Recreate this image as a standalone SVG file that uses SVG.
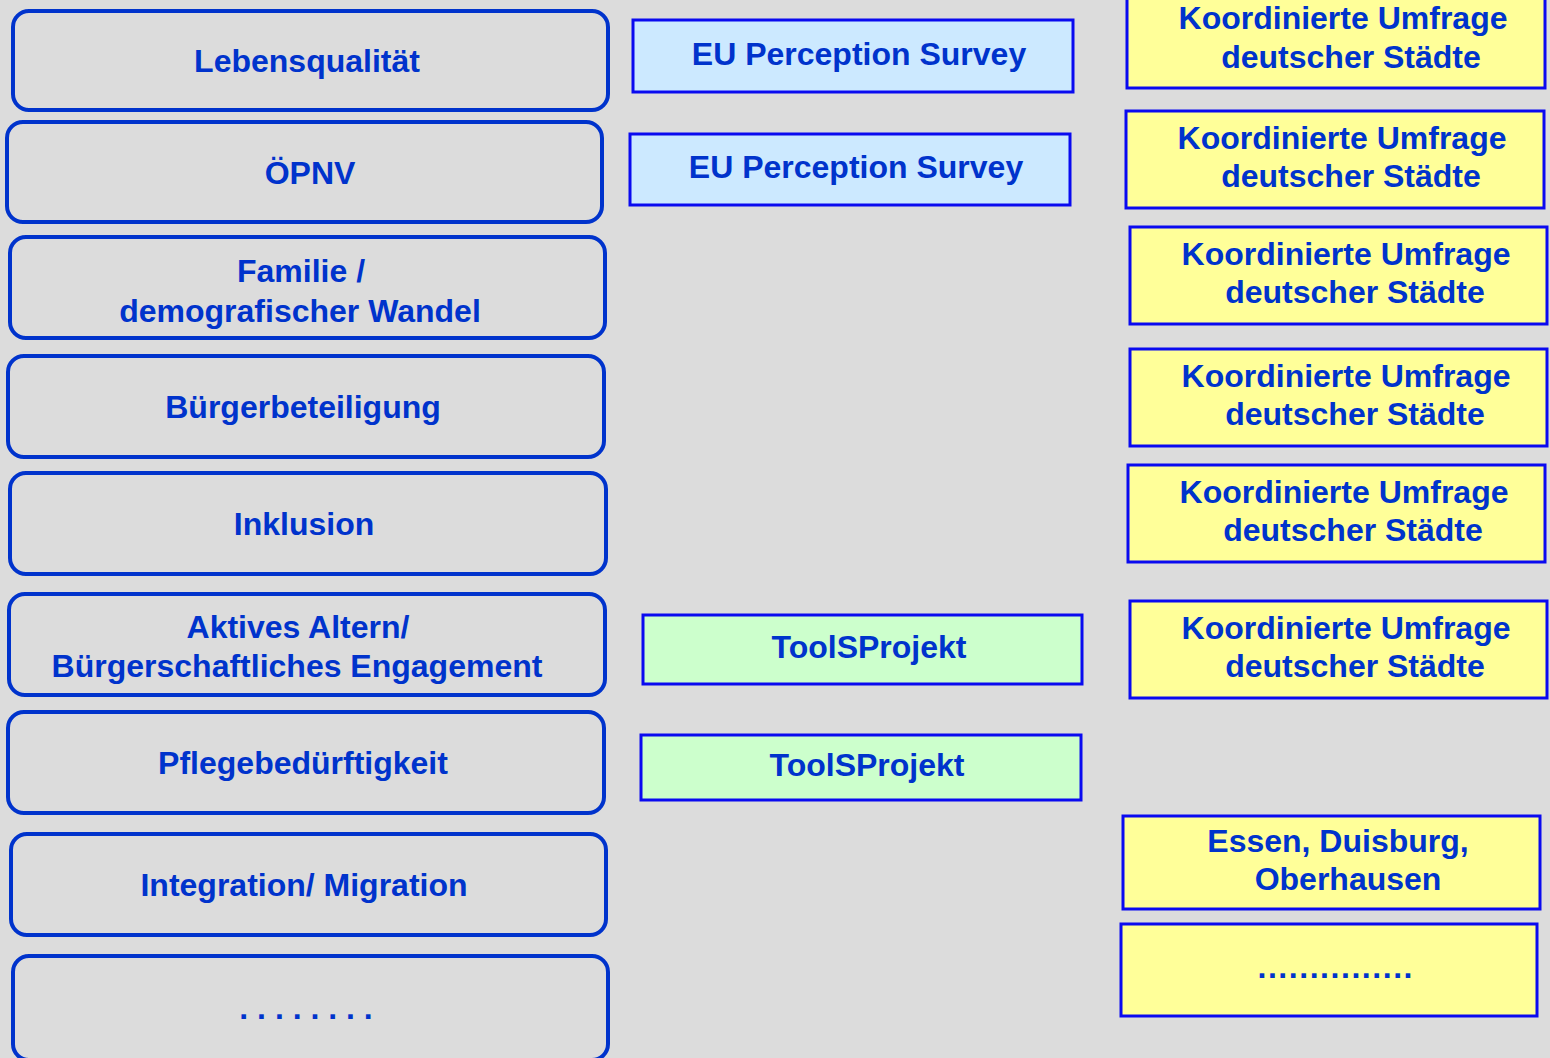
<svg xmlns="http://www.w3.org/2000/svg" width="1550" height="1058" viewBox="0 0 1550 1058">
<style>
.bg{fill:#dcdcdc}
.topic{fill:#dcdcdc;stroke:#0033cc;stroke-width:4}
.eu{fill:#cce9ff;stroke:#0a0af0;stroke-width:3}
.tool{fill:#ccffcc;stroke:#0a0af0;stroke-width:3}
.koord{fill:#ffff99;stroke:#0a0af0;stroke-width:3}
text{font-family:"Liberation Sans",Arial,sans-serif;font-weight:bold;font-size:32px;fill:#0033cc;text-anchor:middle}
</style>
<rect class="bg" x="0" y="0" width="1550" height="1058"/>
<g id="connectors"></g>
<g id="n-lebensqualitaet"><rect class="topic" x="13" y="11" width="595" height="99" rx="16"/><text x="307" y="72">Lebensqualität</text></g>
<g id="n-oepnv"><rect class="topic" x="7" y="122" width="595" height="100" rx="16"/><text x="310" y="184">ÖPNV</text></g>
<g id="n-familie"><rect class="topic" x="10" y="237" width="595" height="101" rx="16"/><text x="301" y="282">Familie /</text><text x="300" y="322">demografischer Wandel</text></g>
<g id="n-buergerbeteiligung"><rect class="topic" x="8" y="356" width="596" height="101" rx="16"/><text x="303" y="418">Bürgerbeteiligung</text></g>
<g id="n-inklusion"><rect class="topic" x="10" y="473" width="596" height="101" rx="16"/><text x="304" y="535">Inklusion</text></g>
<g id="n-aktives-altern"><rect class="topic" x="9" y="594" width="596" height="101" rx="16"/><text x="298" y="638">Aktives Altern/</text><text x="297" y="677">Bürgerschaftliches Engagement</text></g>
<g id="n-pflege"><rect class="topic" x="8" y="712" width="596" height="101" rx="16"/><text x="303" y="774">Pflegebedürftigkeit</text></g>
<g id="n-integration"><rect class="topic" x="11" y="834" width="595" height="101" rx="16"/><text x="304" y="896">Integration/ Migration</text></g>
<g id="n-more-topics"><rect class="topic" x="13" y="956" width="595" height="104" rx="16"/><text x="306" y="1019">. . . . . . . .</text></g>
<g id="n-eu1"><rect class="eu" x="633" y="20" width="440" height="72"/><text x="859" y="65">EU Perception Survey</text></g>
<g id="n-eu2"><rect class="eu" x="630" y="134" width="440" height="71"/><text x="856" y="178">EU Perception Survey</text></g>
<g id="n-tool1"><rect class="tool" x="643" y="615" width="439" height="69"/><text x="869" y="658">ToolSProjekt</text></g>
<g id="n-tool2"><rect class="tool" x="641" y="735" width="440" height="65"/><text x="867" y="776">ToolSProjekt</text></g>
<g id="n-k1"><rect class="koord" x="1127" y="-9" width="418" height="97"/><text x="1343" y="29">Koordinierte Umfrage</text><text x="1351" y="68">deutscher Städte</text></g>
<g id="n-k2"><rect class="koord" x="1126" y="111" width="418" height="97"/><text x="1342" y="149">Koordinierte Umfrage</text><text x="1351" y="187">deutscher Städte</text></g>
<g id="n-k3"><rect class="koord" x="1130" y="227" width="417" height="97"/><text x="1346" y="265">Koordinierte Umfrage</text><text x="1355" y="303">deutscher Städte</text></g>
<g id="n-k4"><rect class="koord" x="1130" y="349" width="417" height="97"/><text x="1346" y="387">Koordinierte Umfrage</text><text x="1355" y="425">deutscher Städte</text></g>
<g id="n-k5"><rect class="koord" x="1128" y="465" width="417" height="97"/><text x="1344" y="503">Koordinierte Umfrage</text><text x="1353" y="541">deutscher Städte</text></g>
<g id="n-k6"><rect class="koord" x="1130" y="601" width="417" height="97"/><text x="1346" y="639">Koordinierte Umfrage</text><text x="1355" y="677">deutscher Städte</text></g>
<g id="n-essen"><rect class="koord" x="1123" y="816" width="417" height="93"/><text x="1338" y="852">Essen, Duisburg,</text><text x="1348" y="890">Oberhausen</text></g>
<g id="n-more-cities"><rect class="koord" x="1121" y="924" width="416" height="92"/><text x="1335" y="978" textLength="155" lengthAdjust="spacing">...............</text></g>
</svg>
